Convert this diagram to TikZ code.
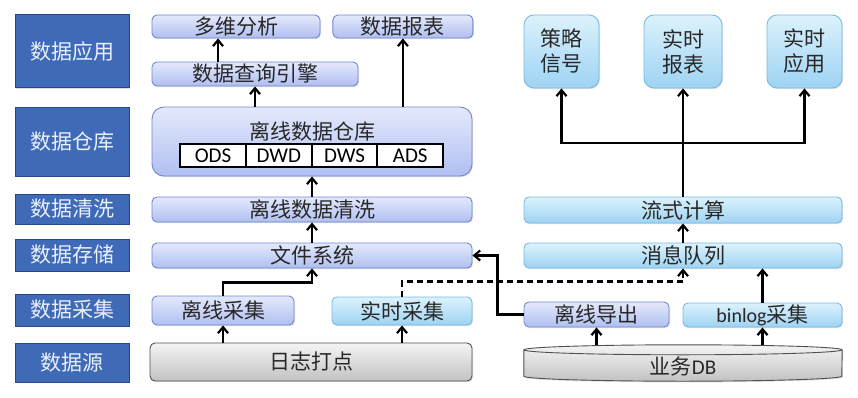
\documentclass[tikz,border=0pt]{standalone}
\usepackage{fontspec}
\setmainfont{Noto Sans CJK SC}
\newfontfamily\latinfont{Carlito}
\usepackage{xcolor}
\usetikzlibrary{positioning,arrows.meta,backgrounds,shadows}

\definecolor{layerfill}{RGB}{62,106,184}
\definecolor{layerdraw}{RGB}{38,72,135}
\definecolor{layertext}{RGB}{235,240,250}
\definecolor{offtop}{RGB}{228,233,251}
\definecolor{offbot}{RGB}{176,191,241}
\definecolor{offdraw}{RGB}{112,136,212}
\definecolor{rttop}{RGB}{220,242,252}
\definecolor{rtbot}{RGB}{158,211,243}
\definecolor{rtdraw}{RGB}{118,186,230}
\definecolor{srctop}{RGB}{244,244,244}
\definecolor{srcbot}{RGB}{194,194,194}
\definecolor{srcdraw}{RGB}{80,80,80}
\definecolor{boxtext}{RGB}{40,40,40}

\begin{document}
\begin{tikzpicture}[
  x=1pt, y=1pt,
  font=\fontsize{21}{25}\selectfont,
  softshadow/.style={drop shadow={shadow xshift=1pt, shadow yshift=-1.2pt, opacity=0.25}},
  layer/.style={draw=layerdraw, line width=1pt, fill=layerfill, text=layertext, minimum width=114pt, inner sep=0pt, softshadow},
  offbox/.style={draw=offdraw, line width=0.9pt, rounded corners=5pt, top color=offtop, bottom color=offbot, text=boxtext, inner sep=0pt, align=center, softshadow},
  rtbox/.style={offbox, draw=rtdraw, top color=rttop, bottom color=rtbot},
  srcbox/.style={offbox, draw=srcdraw, top color=srctop, bottom color=srcbot},
  cell/.style={draw, line width=1.8pt, fill=white, minimum width=65.75pt, minimum height=23pt, inner sep=0pt, outer sep=0pt, font=\latinfont\fontsize{21}{25}\selectfont},
  arr/.style={-{Straight Barb[length=6pt,width=10pt]}, line width=2.2pt},
  dasharr/.style={arr, dash pattern=on 6pt off 4pt}
]
\useasboundingbox (0,0) rectangle (858,397);

% layers
\node[layer, minimum height=73pt] (lapp) at (72,345.5) {数据应用};
\node[layer, minimum height=69pt] (lwh) at (72,255.5) {数据仓库};
\node[layer, minimum height=30pt] (lclean) at (72,188) {数据清洗};
\node[layer, minimum height=32pt] (lstore) at (72,142) {数据存储};
\node[layer, minimum height=32pt] (lcollect) at (72,87) {数据采集};
\node[layer, minimum height=39pt] (lsrc) at (72,34.5) {数据源};

% offline side
\node[offbox, minimum width=168pt, minimum height=23pt] (multi) at (236,370.5) {多维分析};
\node[offbox, minimum width=140pt, minimum height=23pt, right=12pt of multi] (report) {数据报表};
\node[offbox, minimum width=206pt, minimum height=24pt] (query) at (255,323) {数据查询引擎};
\node[offbox, rounded corners=12pt, minimum width=320pt, minimum height=69pt] (wh) at (312,255.5) {};
\node[text=boxtext] (whtitle) at (312,266) {离线数据仓库};
\node[cell] (ods) at (213,241.5) {ODS};
\node[cell, right=0pt of ods] (dwd) {DWD};
\node[cell, right=0pt of dwd] (dws) {DWS};
\node[cell, right=0pt of dws] (ads) {ADS};
\node[offbox, minimum width=320pt, minimum height=25pt] (clean) at (312,187.5) {离线数据清洗};
\node[offbox, minimum width=320pt, minimum height=25pt] (fs) at (312,141.5) {文件系统};
\node[offbox, minimum width=142pt, minimum height=29pt] (offcol) at (223,86.5) {离线采集};
\node[rtbox, minimum width=140pt, minimum height=28pt] (rtcol) at (402,86) {实时采集};
\node[srcbox, minimum width=322pt, minimum height=38pt] (log) at (311,35) {日志打点};

% realtime side
\node[rtbox, rounded corners=10pt, minimum width=75pt, minimum height=73pt] (signal) at (561.5,345.5) {策略\\信号};
\node[rtbox, rounded corners=10pt, minimum width=78pt, minimum height=73pt] (rtrep) at (683,345.5) {实时\\报表};
\node[rtbox, rounded corners=10pt, minimum width=75pt, minimum height=73pt] (rtapp) at (804.5,345.5) {实时\\应用};
\node[rtbox, minimum width=318pt, minimum height=26pt] (stream) at (683,187) {流式计算};
\node[rtbox, minimum width=318pt, minimum height=25pt] (mq) at (683,141.5) {消息队列};
\node[offbox, minimum width=145pt, minimum height=25pt] (export) at (596.5,82.5) {离线导出};
\node[rtbox, minimum width=159pt, minimum height=24pt] (binlog) at (762.5,82) {{\latinfont\fontsize{20}{25}\selectfont binlog}采集};
\node[text=boxtext, minimum width=318pt, minimum height=36pt, inner sep=0pt, text height=25.5pt, text depth=2.5pt] (db) at (683,34) {业务{\latinfont DB}};

% database drum behind its label
\begin{scope}[on background layer]
  \path[draw=srcdraw, line width=0.9pt, top color=srctop, bottom color=srcbot, softshadow]
    ([yshift=-5pt]db.north west) -- ([yshift=5pt]db.south west)
    arc[start angle=180, end angle=360, x radius=159, y radius=5]
    -- ([yshift=-5pt]db.north east)
    arc[start angle=0, end angle=180, x radius=159, y radius=5] -- cycle;
  \draw[srcdraw, line width=0.9pt] ([yshift=-5pt]db.north west)
    arc[start angle=180, end angle=360, x radius=159, y radius=5];
\end{scope}

% offline flow
\draw[arr] (log.north -| offcol) -- (offcol.south);
\draw[arr] (log.north -| rtcol) -- (rtcol.south);
\draw[arr] (offcol.north) -- ++(0,13) -| (fs.south);
\draw[arr] (fs.north) -- (clean.south);
\draw[arr] (clean.north) -- (wh.south);
\draw[arr] (wh.north -| query) -- (query.south);
\draw[arr] ([xshift=-37pt]query.north) -- ([xshift=-37pt]query.north |- multi.south);
\draw[arr] (wh.north -| report) -- (report.south);

% realtime flow
\draw[dasharr] (rtcol.north) -- ++(0,15) -| (mq.south);
\draw[arr] (db.north -| export) -- (export.south);
\draw[arr] (db.north -| binlog) -- (binlog.south);
\draw[arr] (binlog.north) -- (binlog.north |- mq.south);
\draw[arr] (export.west) -- ++(-26,0) |- (fs.east);
\draw[arr] (mq.north) -- (stream.south);
\coordinate (hub) at (stream.north |- 0,254);
\draw[arr] (stream.north) -- (rtrep.south);
\draw[arr] (hub) -| (signal.south);
\draw[arr] (hub) -| (rtapp.south);
\end{tikzpicture}
\end{document}
